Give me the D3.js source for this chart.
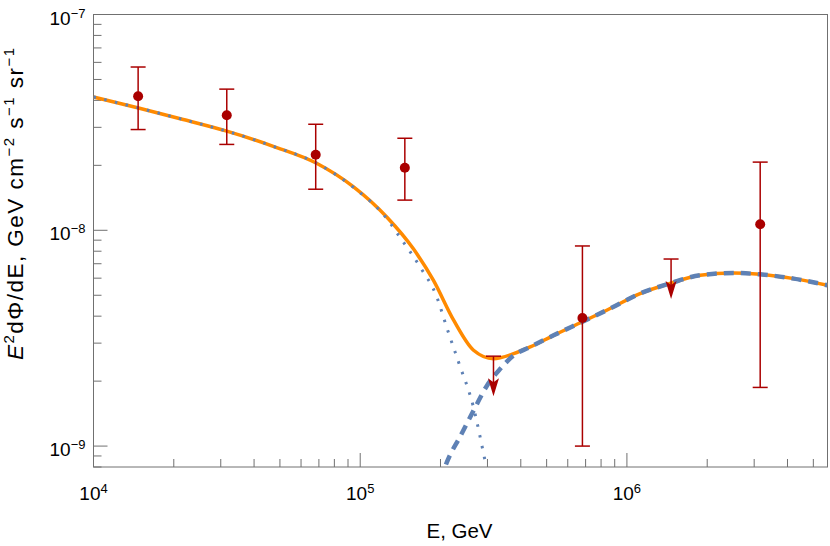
<!DOCTYPE html>
<html>
<head>
<meta charset="utf-8">
<script src="https://cdn.jsdelivr.net/npm/d3@7"></script>
<style>
  body { margin: 0; background: #fff; }
  text { font-family: "Liberation Sans", Arial, sans-serif; fill: #000; }
</style>
</head>
<body>
<div id="chart"></div>
<script>
// measured points (E in GeV, E^2 dPhi/dE)
const pointE = [1.47e4, 3.16e4, 6.81e4, 1.47e5, 6.81e5, 3.16e6];
const pointF = [4.18e-8, 3.41e-8, 2.24e-8, 1.95e-8, 3.92e-9, 1.066e-8];
const pointLo = [2.93e-8, 2.50e-8, 1.55e-8, 1.38e-8, 1.0e-9, 1.87e-9];
const pointHi = [5.71e-8, 4.51e-8, 3.10e-8, 2.67e-8, 8.46e-9, 2.07e-8];

// upper limits
const limitE = [3.16e5, 1.464e6];
const limitF = [2.61e-9, 7.36e-9];

// total model (orange)
const totalE = [1e4, 1.475e4, 2.17e4, 3.16e4, 4.72e4, 6.89e4, 9.44e4, 1.26e5, 1.58e5, 1.88e5, 2.24e5,
  2.66e5, 3.16e5, 3.76e5, 4.34e5, 5.31e5, 6.78e5, 8.65e5, 1.12e6, 1.45e6, 1.88e6, 2.51e6, 3.16e6, 4.22e6, 5.65e6];
const totalF = [4.15e-8, 3.69e-8, 3.26e-8, 2.88e-8, 2.45e-8, 2.04e-8, 1.59e-8, 1.15e-8, 8.23e-9, 5.87e-9, 3.83e-9,
  2.78e-9, 2.54e-9, 2.68e-9, 2.88e-9, 3.26e-9, 3.76e-9, 4.34e-9, 5.09e-9, 5.67e-9, 6.19e-9, 6.34e-9, 6.25e-9, 5.97e-9, 5.56e-9];

// first component (dotted)
const lowE = [1e4, 1.475e4, 2.17e4, 3.16e4, 4.72e4, 6.89e4, 9.44e4, 1.26e5, 1.41e5, 1.68e5, 1.94e5, 2.11e5,
  2.34e5, 2.66e5, 2.90e5, 2.99e5];
const lowF = [4.15e-8, 3.69e-8, 3.26e-8, 2.88e-8, 2.45e-8, 2.04e-8, 1.58e-8, 1.13e-8, 9.28e-9, 6.74e-9, 4.89e-9, 3.55e-9,
  2.44e-9, 1.51e-9, 9.25e-10, 7.7e-10];

// second component (dashed)
const highE = [2.0e5, 2.08e5, 2.40e5, 2.66e5, 2.99e5, 3.35e5, 3.76e5, 4.34e5, 5.31e5, 6.78e5, 8.65e5, 1.12e6,
  1.45e6, 1.88e6, 2.51e6, 3.16e6, 4.22e6, 5.65e6];
const highF = [6.9e-10, 8.0e-10, 1.14e-9, 1.46e-9, 1.91e-9, 2.28e-9, 2.63e-9, 2.88e-9, 3.26e-9, 3.76e-9, 4.34e-9, 5.09e-9,
  5.67e-9, 6.19e-9, 6.34e-9, 6.25e-9, 5.97e-9, 5.56e-9];

const xMajor = [1e4, 1e5, 1e6];
const xMajorExp = ['4', '5', '6'];
const yMajor = [1e-9, 1e-8, 1e-7];
const yMajorExp = ['\u22129', '\u22128', '\u22127'];

const width = 830, height = 546;
const margin = {top: 14.5, left: 93.5, right: 2.5, bottom: 79};
const innerW = width - margin.left - margin.right;
const innerH = height - margin.top - margin.bottom;

const svg = d3.select('#chart').append('svg')
  .attr('width', width)
  .attr('height', height);

const x = d3.scaleLog().domain([1e4, 5.65e6]).range([0, innerW]);
const y = d3.scaleLog().domain([8e-10, 1e-7]).range([innerH, 0]);

const g = svg.append('g').attr('transform', `translate(${margin.left},${margin.top})`);

g.append('clipPath').attr('id', 'clip')
  .append('rect').attr('width', innerW).attr('height', innerH);

const axisColor = '#707070';

// ticks, inward
const xTicks = x.ticks();
g.selectAll('line.xtick')
  .data(xTicks)
  .enter().append('line')
  .attr('class', 'xtick')
  .attr('x1', d => x(d)).attr('x2', d => x(d))
  .attr('y1', innerH)
  .attr('y2', d => innerH - (xMajor.includes(d) ? 14 : 8))
  .attr('stroke', axisColor).attr('stroke-width', 1);

const yTicks = y.ticks();
g.selectAll('line.ytick')
  .data(yTicks)
  .enter().append('line')
  .attr('class', 'ytick')
  .attr('y1', d => y(d)).attr('y2', d => y(d))
  .attr('x1', 0)
  .attr('x2', d => yMajor.some(m => Math.abs(m - d) / m < 1e-6) ? 14 : 8)
  .attr('stroke', axisColor).attr('stroke-width', 1);

// frame
g.append('rect')
  .attr('width', innerW).attr('height', innerH)
  .attr('fill', 'none')
  .attr('stroke', axisColor).attr('stroke-width', 1);

// tick labels
const xLab = g.selectAll('text.xlab')
  .data(xMajor)
  .enter().append('text')
  .attr('class', 'xlab')
  .attr('x', d => x(d))
  .attr('y', innerH + 33)
  .attr('text-anchor', 'middle')
  .style('font-size', '19px');
xLab.append('tspan').text('10');
xLab.append('tspan').attr('dy', -7).style('font-size', '13px').text((d, i) => xMajorExp[i]);

const yLab = g.selectAll('text.ylab')
  .data(yMajor)
  .enter().append('text')
  .attr('class', 'ylab')
  .attr('x', -8)
  .attr('y', d => y(d) + 10)
  .attr('text-anchor', 'end')
  .style('font-size', '19px');
yLab.append('tspan').text('10');
yLab.append('tspan').attr('dy', -7).style('font-size', '13px').text((d, i) => yMajorExp[i]);

// axis titles
svg.append('text')
  .attr('x', margin.left + innerW / 2 - 1)
  .attr('y', 537.5)
  .attr('text-anchor', 'middle')
  .style('font-size', '20.5px')
  .text('E, GeV');

const yTitle = svg.append('text')
  .attr('transform', 'translate(23,204) rotate(-90)')
  .attr('text-anchor', 'middle')
  .attr('textLength', 312)
  .attr('lengthAdjust', 'spacing')
  .style('font-size', '22.5px');
const parts = [
  ['E', 0, 'italic'], ['2', -9, null], ['d\u03a6/dE, GeV cm', 9, null], ['\u22122', -9, null],
  [' s', 9, null], ['\u22121', -9, null], [' sr', 9, null], ['\u22121', -9, null]
];
parts.forEach(([t, dy, st]) => {
  const sp = yTitle.append('tspan').attr('dy', dy).text(t);
  if (st) sp.style('font-style', st);
  if (dy < 0) sp.style('font-size', '15px');
});

// curves
const plot = g.append('g').attr('clip-path', 'url(#clip)');
const line = d3.line()
  .x(d => x(d[0]))
  .y(d => y(d[1]))
  .curve(d3.curveMonotoneX);

plot.append('path')
  .datum(d3.zip(totalE, totalF))
  .attr('d', line)
  .attr('fill', 'none')
  .attr('stroke', '#ff8a00')
  .attr('stroke-width', 3.5);

plot.append('path')
  .datum(d3.zip(lowE, lowF))
  .attr('d', line)
  .attr('fill', 'none')
  .attr('stroke', '#5e81b5')
  .attr('stroke-width', 3)
  .attr('stroke-dasharray', '2.5,8.5');

plot.append('path')
  .datum(d3.zip(highE, highF))
  .attr('d', line)
  .attr('fill', 'none')
  .attr('stroke', '#5e81b5')
  .attr('stroke-width', 4.5)
  .attr('stroke-dasharray', '10,7');

// data points with error bars
const red = '#aa0000';
const pts = g.selectAll('g.pt')
  .data(d3.range(pointE.length))
  .enter().append('g')
  .attr('class', 'pt')
  .attr('transform', i => `translate(${x(pointE[i])},0)`);

pts.append('line')
  .attr('y1', i => y(pointLo[i])).attr('y2', i => y(pointHi[i]))
  .attr('stroke', red).attr('stroke-width', 1.5);
pts.append('line')
  .attr('x1', -7.5).attr('x2', 7.5)
  .attr('y1', i => y(pointLo[i])).attr('y2', i => y(pointLo[i]))
  .attr('stroke', red).attr('stroke-width', 1.5);
pts.append('line')
  .attr('x1', -7.5).attr('x2', 7.5)
  .attr('y1', i => y(pointHi[i])).attr('y2', i => y(pointHi[i]))
  .attr('stroke', red).attr('stroke-width', 1.5);
pts.append('circle')
  .attr('cy', i => y(pointF[i]))
  .attr('r', 5)
  .attr('fill', red);

// upper limits
const ul = g.selectAll('g.ul')
  .data(d3.range(limitE.length))
  .enter().append('g')
  .attr('class', 'ul')
  .attr('transform', i => `translate(${x(limitE[i])},${y(limitF[i])})`);

ul.append('line')
  .attr('x1', -7.5).attr('x2', 7.5)
  .attr('stroke', red).attr('stroke-width', 1.5);
ul.append('line')
  .attr('y1', 0).attr('y2', 28)
  .attr('stroke', red).attr('stroke-width', 1.5);
ul.append('path')
  .attr('d', 'M0,40 L-5.5,22 L0,26 L5.5,22 Z')
  .attr('fill', red);
</script>
</body>
</html>
